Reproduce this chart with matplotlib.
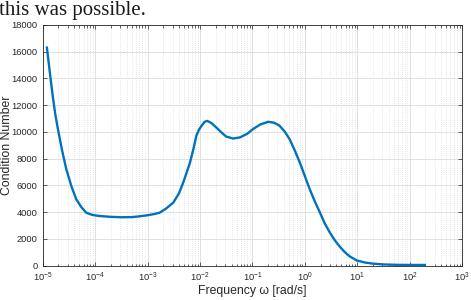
import numpy as np
import matplotlib.pyplot as plt

# Values (log10 of frequency, condition number)
log_freq = [-4.92, -4.86, -4.81, -4.76, -4.71, -4.63, -4.55, -4.45, -4.36, -4.26,
            -4.17, -4.05, -3.91, -3.70, -3.50, -3.30, -3.15, -3.00, -2.87, -2.77,
            -2.65, -2.51, -2.40, -2.32, -2.25, -2.19, -2.12, -2.07, -2.02, -1.97,
            -1.91, -1.86, -1.78, -1.69, -1.59, -1.50, -1.37, -1.24, -1.10, -0.99,
            -0.85, -0.70, -0.58, -0.48, -0.38, -0.29, -0.19, -0.095, 0.0, 0.095,
            0.19, 0.29, 0.38, 0.48, 0.57, 0.67, 0.75, 0.85, 0.99, 1.15,
            1.30, 1.50, 1.75, 2.00, 2.29]
cond_number = [16300, 14300, 12700, 11300, 10200, 8600, 7200, 5900, 4950, 4350,
               3950, 3780, 3700, 3640, 3610, 3620, 3680, 3760, 3850, 3950,
               4250, 4700, 5400, 6200, 7000, 7700, 8800, 9700, 10150, 10450,
               10750, 10820, 10650, 10330, 9950, 9650, 9500, 9580, 9850, 10200,
               10550, 10750, 10680, 10450, 10000, 9450, 8600, 7700, 6700, 5700,
               4800, 3950, 3150, 2450, 1900, 1400, 1050, 700, 380, 220,
               140, 80, 50, 42, 40]
freq = 10 ** np.array(log_freq)

plt.rcParams['mathtext.fontset'] = 'custom'
plt.rcParams['mathtext.rm'] = 'Liberation Sans'
plt.rcParams['mathtext.it'] = 'Liberation Sans:italic'
plt.rcParams['font.family'] = 'Liberation Sans'

fig = plt.figure(figsize=(4.71, 3.0), dpi=100)
ax = fig.add_axes([0.0907, 0.115, 0.8903, 0.802])

ax.plot(freq, cond_number, color='#0072BD', linewidth=1.7)

ax.set_xscale('log')
ax.set_xlim(1e-5, 1e3)
ax.set_ylim(0, 18000)
ax.set_xticks([10.0 ** k for k in range(-5, 4)])
ax.set_yticks(range(0, 18001, 2000))

ax.grid(which='major', color='#dcdcdc', linewidth=0.6, linestyle='-')
ax.grid(which='minor', axis='x', color='#d0d0d0', linewidth=0.5, linestyle=(0, (1, 2)))

ax.tick_params(which='both', direction='in', top=True, right=True,
               labelsize=6.7, colors='#262626', pad=3.5)
ax.tick_params(which='major', length=3, width=0.5)
ax.tick_params(which='minor', length=1.8, width=0.5)
for s in ax.spines.values():
    s.set_color('#262626')
    s.set_linewidth(0.6)

ax.set_xlabel('Frequency ω [rad/s]', fontsize=8.8, color='#262626', labelpad=1)
ax.set_ylabel('Condition Number', fontsize=8.8, color='#262626')
ax.yaxis.set_label_coords(-0.071, 0.5)

fig.text(-0.002, 0.997, 'this was possible.', family='Liberation Serif',
         fontsize=15, va='top', ha='left', color='#1a1a1a')

plt.savefig('out.png', dpi=100)
